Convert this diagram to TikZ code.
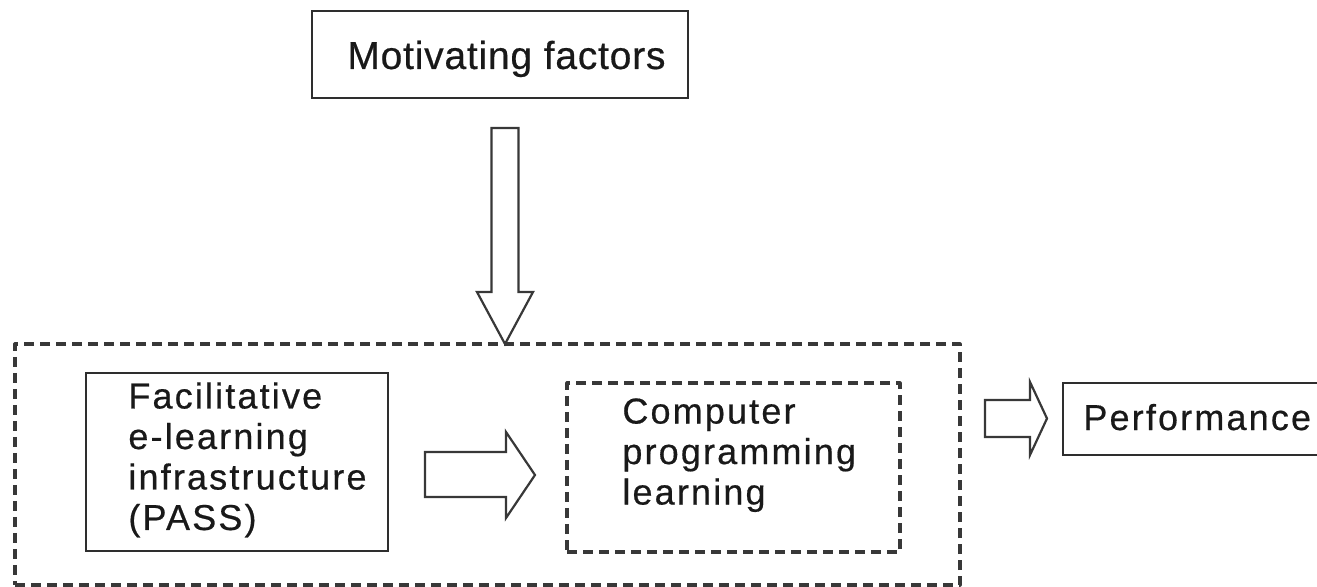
\documentclass[tikz,border=0pt]{standalone}
\usepackage{fontspec}
\setmainfont{Liberation Sans}
\newfontfamily\labfont[LetterSpace=6,FakeBold=0.5]{Liberation Sans}
\newfontfamily\motfont[LetterSpace=2,FakeBold=0.5]{Liberation Sans}
\usetikzlibrary{fit}
\tikzset{
  solidbox/.style={draw=black!82, line width=1.25pt, inner sep=0pt},
  dashbox/.style={draw=black!78, line width=1.6pt, dash pattern=on 5pt off 3pt, inner sep=0pt, line join=round},
  blockarrow/.style={draw=black!78, line width=1.1pt, fill=white, line join=miter},
  lab/.style={inner sep=0pt, align=left, font=\labfont\fontsize{18}{20.25}\selectfont, text=black!90},
  mlab/.style={inner sep=0pt, font=\motfont\fontsize{19.5}{22}\selectfont, text=black!90}
}
\begin{document}
\begin{tikzpicture}[x=0.5pt, y=-0.5pt]
\useasboundingbox (0,0) rectangle (1317,587);
% boxes
\node[solidbox, fit={(312,11) (688,98)}] (mot) {};
\node[mlab, anchor=base west] (motT) at (347,69) {Motivating factors};

\node[dashbox, fit={(15,344) (960,585)}] (outer) {};

\node[solidbox, fit={(86,373) (388,551)}] (fac) {};
\node[lab, anchor=north west] (facT) at (128,382) {Facilitative\\e-learning\\infrastructure\\(PASS)};

\node[dashbox, fit={(567,383) (900,552)}] (cpl) {};
\node[lab, anchor=north west] (cplT) at (622,398) {Computer\\programming\\learning};

\node[solidbox, fit={(1063,383) (1340,455)}] (perf) {};
\node[lab, anchor=base west] (perfT) at (1083,430) {Performance};

% block arrows
\draw[blockarrow] (491.5,128) -- (518.5,128) -- (518.5,292) -- (533,292) -- (505,344) -- (477,292) -- (491.5,292) -- cycle;
\draw[blockarrow] (425,452) -- (506,452) -- (506,432) -- (535,475) -- (506,518) -- (506,497) -- (425,497) -- cycle;
\draw[blockarrow] (985,400) -- (1030,400) -- (1030,382) -- (1047,418.5) -- (1030,455) -- (1030,437) -- (985,437) -- cycle;
\end{tikzpicture}
\end{document}
